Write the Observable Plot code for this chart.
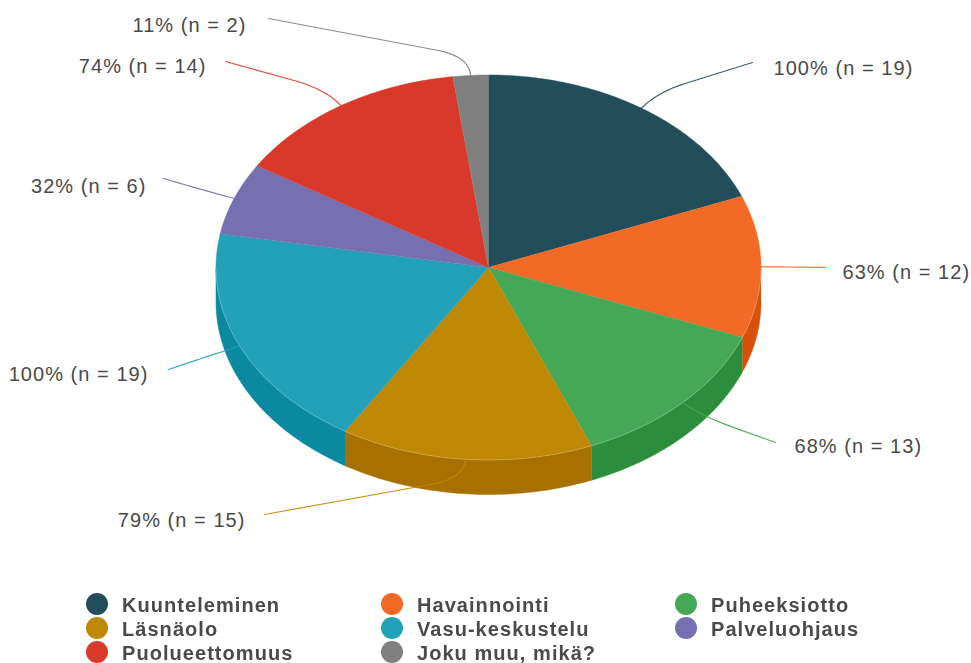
<!DOCTYPE html>
<html>
<head>
<meta charset="utf-8">
<script src="https://cdn.jsdelivr.net/npm/d3@7"></script>
<script src="https://cdn.jsdelivr.net/npm/@observablehq/plot@0.6"></script>
<style>
  html, body { margin: 0; padding: 0; background: #fff; overflow: hidden; }
  #chart svg { display: block; }
  #page { filter: blur(0.55px); }
  #legend {
    position: relative; height: 78px; width: 971px;
    font-family: "Liberation Sans", Arial, sans-serif; font-size: 20px; font-weight: 700;
    letter-spacing: 1.05px; color: #4a4a4a;
  }
  .item { position: absolute; height: 24px; line-height: 24px; white-space: nowrap; }
  .dot { position: absolute; left: -11px; top: 1px; width: 22px; height: 22px; border-radius: 50%; }
  .lab { position: absolute; left: 25px; top: 1px; }
</style>
</head>
<body>
<div id="page">
<div id="chart"></div>
<div id="legend"></div>
</div>
<script>
// Data
const categories = ["Kuunteleminen","Havainnointi","Puheeksiotto","Läsnäolo","Vasu-keskustelu","Palveluohjaus","Puolueettomuus","Joku muu, mikä?"];
const counts   = [19,12,13,15,19,6,14,2];
const percents = [100,63,68,79,100,32,74,11];

// Styling and layout (separate from the data)
const topColors  = ["#224e5c","#f26a25","#45a856","#bf8803","#22a1b8","#7670b1","#d9392b","#808080"];
const wallColors = ["#183a45","#d9500a","#2c8e3d","#a67100","#0a899f","#5a5590","#b02a20","#666666"];
const W = 971, H = 585, CX = 488, CY = 267, RX = 272.5, RY = 192.5, DEPTH = 34.5;
const depth = DEPTH / RY;
// leader end points and label anchors, in pie units (x right, y up)
const ux = px => (px - CX) / RX, uy = py => (CY - py) / RY;
const leaderEnds = [[752,62],[825,267],[775,442],[264,514],[168,369],[163,178],[225,61],[268,18]].map(([a,b]) => [ux(a),uy(b)]);
const labelAt    = [[773,68],[842,272],[794,446],[245,520],[148,374],[146,186],[206,66],[246,25]].map(([a,b]) => [ux(a),uy(b)]);

// Geometry derived from the values: slices are proportional to the percentages
const total = d3.sum(percents);
const cum = d3.cumsum(percents);
const slices = categories.map((name, i) => {
  const a0 = ((cum[i] - percents[i]) / total) * 2 * Math.PI;
  const a1 = (cum[i] / total) * 2 * Math.PI;
  return {name, i, a0, a1, mid: (a0 + a1) / 2};
});
const pt = (a, r = 1, dz = 0) => ({x: r * Math.sin(a), y: r * Math.cos(a) - dz});
const arc = (a0, a1, dz = 0) => {
  const n = Math.max(2, Math.ceil((a1 - a0) / (Math.PI / 180)));
  return d3.range(n + 1).map(k => pt(a0 + (a1 - a0) * k / n, 1, dz));
};
const topFace = s => [{x: 0, y: 0}, ...arc(s.a0, s.a1)];
const wall = s => {
  const a0 = Math.max(s.a0, Math.PI / 2), a1 = Math.min(s.a1, 3 * Math.PI / 2);
  if (a1 <= a0) return null;
  return [...arc(a0, a1), ...arc(a0, a1, depth).reverse()];
};
const leader = s => {
  const p0 = pt(s.mid), c = pt(s.mid, 1.1), [ex, ey] = leaderEnds[s.i];
  const len = Math.hypot(ex - c.x, ey - c.y);
  const t = Math.min(0.12 / len, 1);
  const p2 = {x: c.x + (ex - c.x) * t, y: c.y + (ey - c.y) * t};
  const bez = d3.range(0, 1.01, 0.125).map(u => ({
    x: (1-u)*(1-u)*p0.x + 2*u*(1-u)*c.x + u*u*p2.x,
    y: (1-u)*(1-u)*p0.y + 2*u*(1-u)*c.y + u*u*p2.y
  }));
  return [...bez, {x: ex, y: ey}];
};
const labels = slices.map(s => ({
  x: labelAt[s.i][0], y: labelAt[s.i][1],
  text: `${percents[s.i]}% (n = ${counts[s.i]})`,
  anchor: s.i < 3 ? "start" : "end"
}));

const XY = {x: "x", y: "y"};
const chart = Plot.plot({
  width: W, height: H, margin: 0,
  x: {domain: [-CX / RX, (W - CX) / RX], range: [0, W], axis: null},
  y: {domain: [CY / RY, (CY - H) / RY], range: [0, H], axis: null},
  style: {background: "#fff"},
  marks: [
    ...slices.filter(wall).map(s => Plot.line(wall(s), {...XY, fill: wallColors[s.i], stroke: wallColors[s.i], strokeWidth: 0.5})),
    ...slices.map(s => Plot.line(topFace(s), {...XY, fill: topColors[s.i], stroke: topColors[s.i], strokeWidth: 0.5})),
    Plot.line(arc(Math.PI / 2, 3 * Math.PI / 2), {...XY, stroke: "#fff", strokeOpacity: 0.22, strokeWidth: 1}),
    ...slices.map(s => Plot.line(leader(s), {...XY, stroke: topColors[s.i], strokeWidth: 1.2, strokeOpacity: 0.9})),
    ...["start", "end"].map(anchor => Plot.text(labels.filter(l => l.anchor === anchor), {
      ...XY, text: "text", textAnchor: anchor, fontSize: 20, fill: "#4a4a4a",
      fontFamily: "'Liberation Sans', Arial, sans-serif"
    }))
  ]
});
chart.style.letterSpacing = "1.05px";
document.getElementById("chart").appendChild(chart);

// Legend
const colX = [97, 392, 686];
const legendBox = document.getElementById("legend");
categories.forEach((name, i) => {
  const item = document.createElement("div");
  item.className = "item";
  item.style.left = colX[i % 3] + "px";
  item.style.top = (7 + Math.floor(i / 3) * 24) + "px";
  const dot = document.createElement("span");
  dot.className = "dot";
  dot.style.background = topColors[i];
  const lab = document.createElement("span");
  lab.className = "lab";
  lab.textContent = name;
  item.append(dot, lab);
  legendBox.appendChild(item);
});
</script>
</body>
</html>
